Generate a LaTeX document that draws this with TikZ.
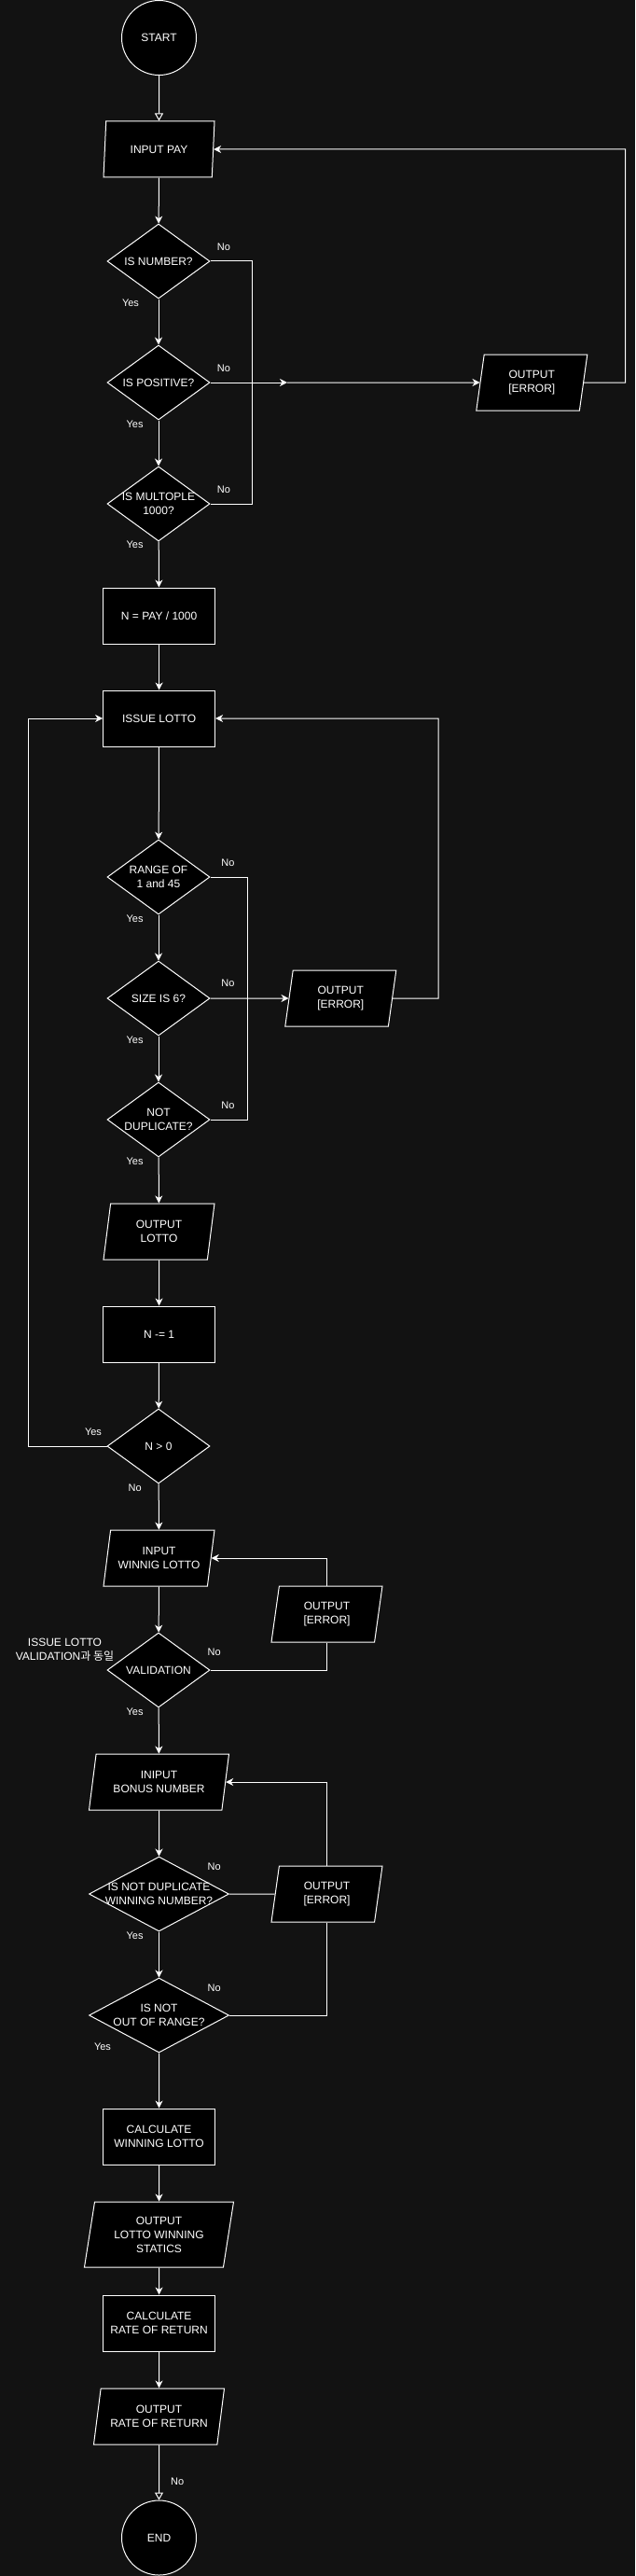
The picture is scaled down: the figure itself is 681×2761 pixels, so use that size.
\documentclass[tikz,border=0pt]{standalone}
\usepackage{fontspec}
\setmainfont{Liberation Sans}
\newfontfamily\kofont{Noto Sans CJK KR}
\usetikzlibrary{shapes.geometric,arrows.meta}
\definecolor{bgcol}{RGB}{18,18,18}
\begin{document}
\begin{tikzpicture}[x=1pt,y=-1pt,
    every node/.style={text=white,font=\fontsize{12}{15}\selectfont,align=center},
    term/.style={circle,draw=white,fill=black,line width=1pt,minimum size=80pt,inner sep=0pt},
    proc/.style={rectangle,draw=white,fill=black,line width=1pt,minimum width=120pt,minimum height=60pt,inner sep=0pt},
    io/.style={trapezium,trapezium left angle=72,trapezium right angle=108,trapezium stretches body,
      draw=white,fill=black,line width=1pt,minimum width=119pt,minimum height=60pt,inner sep=0pt},
    decision/.style={diamond,draw=white,fill=black,line width=1pt,minimum width=110pt,minimum height=80pt,inner sep=0pt,aspect=1.375},
    lbl/.style={font=\fontsize{11}{13}\selectfont,inner sep=0pt},
    arr/.style={-{Stealth[length=8pt,width=8pt,inset=2.5pt]}},
    hollow/.style={-{Triangle[open,length=8pt,width=9pt]}}]
  \fill[bgcol] (0,0) rectangle (681,2761);
  \useasboundingbox (0,0) rectangle (681,2761);
  \draw
    (170.5,40.5) node[term] (start){START}
    (170.5,160) node[io] (pay){INPUT PAY}
    (170,280) node[decision] (isnum){IS NUMBER?}
    (170,410) node[decision] (ispos){IS POSITIVE?}
    (170,540) node[decision,inner xsep=-3pt] (ismul){IS MULTOPLE\\1000?}
    (570.3,410) node[io] (err1){OUTPUT\\{[ERROR]}}
    (170.6,660) node[proc] (calcn){N = PAY / 1000}
    (170.6,770) node[proc] (issue){ISSUE LOTTO}
    (170,940) node[decision] (range){RANGE OF\\1 and 45}
    (170,1070) node[decision] (size){SIZE IS 6?}
    (365.3,1070) node[io] (err2){OUTPUT\\{[ERROR]}}
    (170,1200) node[decision] (notdup){NOT\\DUPLICATE?}
    (170.5,1320) node[io] (outlotto){OUTPUT\\LOTTO}
    (170.6,1430) node[proc] (dec){N -= 1}
    (170,1550) node[decision] (ngt){N > 0}
    (170.5,1670) node[io] (inwin){INPUT\\WINNIG LOTTO}
    (350.5,1730) node[io] (err3){OUTPUT\\{[ERROR]}}
    (170,1790) node[decision] (valid){VALIDATION}
    (69.5,1768) node (note){ISSUE LOTTO\\VALIDATION{\kofont 과 동일}}
    (170.5,1910) node[io,minimum width=150pt] (inbonus){INIPUT\\BONUS NUMBER}
    (170.5,2030) node[decision,minimum width=150pt,aspect=1.875,inner xsep=-10pt] (isnotdup){IS NOT DUPLICATE\\WINNING NUMBER?}
    (350.5,2030) node[io] (err4){OUTPUT\\{[ERROR]}}
    (170.5,2160) node[decision,minimum width=150pt,aspect=1.875] (isnotout){IS NOT\\OUT OF RANGE?}
    (170.6,2290) node[proc] (calcwin){CALCULATE\\WINNING LOTTO}
    (170.5,2395) node[io,minimum width=160pt,minimum height=70pt,trapezium left angle=74,trapezium right angle=106] (outstat){OUTPUT\\LOTTO WINNING\\STATICS}
    (170.6,2490) node[proc] (calcrate){CALCULATE\\RATE OF RETURN}
    (170.5,2590) node[io,minimum width=140pt] (outrate){OUTPUT\\RATE OF RETURN}
    (170.5,2720) node[term] (stop){END};
  \draw
    (140,325) node[lbl] (y1){Yes}
    (144.6,455) node[lbl] (y2){Yes}
    (144.6,584) node[lbl] (y3){Yes}
    (240,264.5) node[lbl] (n1){No}
    (240,395) node[lbl] (n2){No}
    (240,525) node[lbl] (n3){No}
    (144.6,984.5) node[lbl] (y4){Yes}
    (144.6,1114.7) node[lbl] (y5){Yes}
    (144.6,1244.5) node[lbl] (y6){Yes}
    (244.5,924.5) node[lbl] (n4){No}
    (244.5,1054) node[lbl] (n5){No}
    (244.5,1184.5) node[lbl] (n6){No}
    (100,1535) node[lbl] (y7){Yes}
    (144.6,1595) node[lbl] (n7){No}
    (229.7,1771) node[lbl] (n8){No}
    (144.6,1835) node[lbl] (y8){Yes}
    (229.7,2000.7) node[lbl] (n9){No}
    (144.6,2075) node[lbl] (y9){Yes}
    (229.7,2130.7) node[lbl] (n10){No}
    (110,2194) node[lbl] (y10){Yes}
    (190.2,2660) node[lbl] (n11){No};
  \coordinate (j1) at (270.6,540);
  \coordinate (m1) at (308,410);
  \coordinate (r1) at (670.6,410);
  \coordinate (j2) at (265.4,1200);
  \coordinate (r2) at (470,1070);
  \coordinate (l1) at (30.4,1550);
  \begin{scope}[white,line width=1pt]
    \draw[hollow] (start) to (pay);
    \draw[arr] (pay) to (isnum);
    \draw[arr] (isnum) to (ispos);
    \draw[arr] (ispos) to (ismul);
    \draw[arr] (ismul) to (calcn);
    \draw (isnum) -| (j1) -- (ismul);
    \draw[arr] (ispos) to (m1);
    \draw[arr] (m1) to (err1);
    \draw[arr] (err1) -- (r1) |- (pay);
    \draw[arr] (calcn) to (issue);
    \draw[arr] (issue) to (range);
    \draw[arr] (range) to (size);
    \draw[arr] (size) to (notdup);
    \draw (range) -| (j2) -- (notdup);
    \draw[arr] (size) to (err2);
    \draw[arr] (err2) -- (r2) |- (issue);
    \draw[arr] (notdup) to (outlotto);
    \draw[arr] (outlotto) to (dec);
    \draw[arr] (dec) to (ngt);
    \draw[arr] (ngt) -- (l1) |- (issue);
    \draw[arr] (ngt) to (inwin);
    \draw[arr] (inwin) to (valid);
    \draw (valid) -| (err3);
    \draw[arr] (err3) |- (inwin);
    \draw[arr] (valid) to (inbonus);
    \draw[arr] (inbonus) to (isnotdup);
    \draw (isnotdup) to (err4);
    \draw[arr] (isnotdup) to (isnotout);
    \draw (isnotout) -| (err4);
    \draw[arr] (err4) |- (inbonus);
    \draw[arr] (isnotout) to (calcwin);
    \draw[arr] (calcwin) to (outstat);
    \draw[arr] (outstat) to (calcrate);
    \draw[arr] (calcrate) to (outrate);
    \draw[hollow] (outrate) to (stop);
  \end{scope}
\end{tikzpicture}
\end{document}
